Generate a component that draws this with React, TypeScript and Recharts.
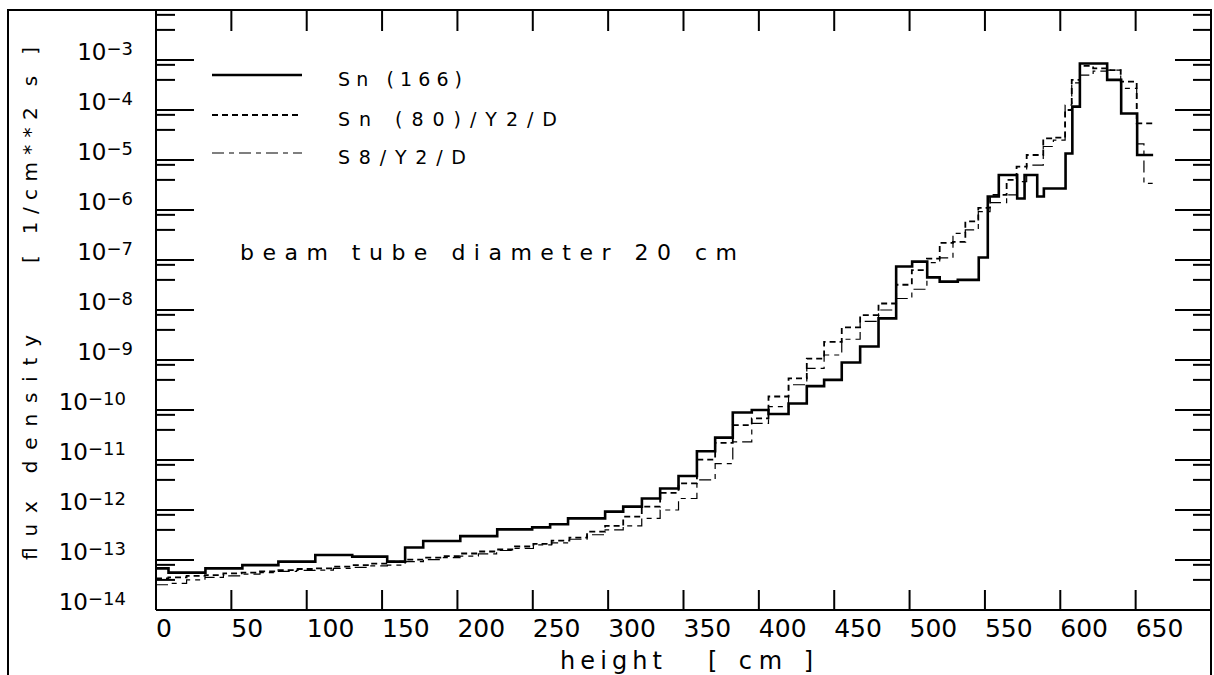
import { LineChart, Line, XAxis, YAxis } from "recharts";

const W = 1214;
const H = 675;
const LEFT = 156;
const RIGHT = 1211;
const TOP = 10;
const BOTTOM = 610;
const FONT = "'DejaVu Sans', sans-serif";

// height axis ticks [cm]
const heightTicks = [0, 50, 100, 150, 200, 250, 300, 350, 400, 450, 500, 550, 600, 650];
// flux axis: labelled decades and the two short ticks below each
const decadeTicks = [1e-14, 1e-13, 1e-12, 1e-11, 1e-10, 1e-9, 1e-8, 1e-7, 1e-6, 1e-5, 1e-4, 1e-3];
const minorTicks = [
  4e-14, 8e-14, 4e-13, 8e-13, 4e-12, 8e-12, 4e-11, 8e-11, 4e-10, 8e-10, 4e-9, 8e-9,
  4e-8, 8e-8, 4e-7, 8e-7, 4e-6, 8e-6, 4e-5, 8e-5, 4e-4, 8e-4, 4e-3, 8e-3,
];

// Sn (166): bin edges [cm] and flux per bin [1/cm**2 s]
const sn166Edges = [
  0, 8.3, 32.8, 57.3, 81.2, 105.7, 130.2, 153.4, 165.3, 177.3,
  201.9, 226.4, 249.6, 261.5, 273.4, 298, 310, 322.4, 334.5, 346.7,
  358.9, 371, 382.7, 395.3, 406.4, 419.7, 431.8, 443.3, 455, 467.2,
  479.4, 491.1, 501.7, 511.7, 520, 532, 545.9, 551.9, 559.2, 571.4,
  576.3, 584.7, 589.1, 603.5, 608, 613, 631.1, 640.4, 651, 661.6,
];
const sn166Flux = [
  6.8e-14, 5.6e-14, 6.8e-14, 7.9e-14, 9.3e-14, 1.26e-13, 1.17e-13, 9.3e-14, 1.78e-13, 2.4e-13,
  3.0e-13, 4.1e-13, 4.5e-13, 5.2e-13, 6.8e-13, 9.3e-13, 1.17e-12, 1.7e-12, 2.7e-12, 4.8e-12,
  1.5e-11, 2.8e-11, 8.9e-11, 1.0e-10, 8.3e-11, 1.35e-10, 3.0e-10, 4.0e-10, 8.9e-10, 1.86e-9,
  6.8e-9, 7.4e-8, 9.3e-8, 4.5e-8, 3.7e-8, 4.0e-8, 1.12e-7, 1.86e-6, 5.0e-6, 1.7e-6,
  5.0e-6, 1.86e-6, 2.7e-6, 1.35e-5, 1.17e-4, 8.5e-4, 4.0e-4, 8.5e-5, 1.26e-5,
];

// Sn (80)/Y2/D
const sn80Edges = [
  0, 8.2, 20.3, 32.5, 44.7, 56.8, 69, 81.2, 93.3, 105.5,
  117.7, 129.8, 142, 153.5, 165.3, 177.4, 189.6, 201.7, 213.9, 226,
  238.2, 250.4, 262.5, 274.3, 286, 298, 310, 322.3, 334.5, 346.7,
  358.9, 371, 382.7, 395.3, 406.4, 419.7, 431.8, 443.3, 455, 467.2,
  479.4, 491.1, 501.5, 511.5, 520, 528.8, 537, 545.6, 553.4, 564.4,
  571, 577.7, 588.7, 595.4, 603.2, 607.6, 613, 621.8, 630.8, 640.1,
  650.7, 661.3,
];
const sn80Flux = [
  4.3e-14, 4.5e-14, 4.8e-14, 5.0e-14, 5.4e-14, 5.6e-14, 5.9e-14, 6.3e-14, 6.6e-14, 6.8e-14,
  7.4e-14, 7.9e-14, 8.5e-14, 9.3e-14, 1.02e-13, 1.12e-13, 1.2e-13, 1.35e-13, 1.48e-13, 1.62e-13,
  1.86e-13, 2.1e-13, 2.45e-13, 2.8e-13, 3.7e-13, 4.8e-13, 7.4e-13, 1.17e-12, 2.2e-12, 3.4e-12,
  1.02e-11, 2.2e-11, 5.0e-11, 6.8e-11, 1.86e-10, 4.3e-10, 1.07e-9, 2.3e-9, 4.5e-9, 7.9e-9,
  1.35e-8, 3.2e-8, 6.3e-8, 1.07e-7, 2.2e-7, 2.3e-7, 5.9e-7, 1.1e-6, 2.0e-6, 4.0e-6,
  7.4e-6, 1.26e-5, 2.7e-5, 2.8e-5, 1.0e-4, 4.0e-4, 7.6e-4, 6.8e-4, 6.3e-4, 3.7e-4,
  5.4e-5,
];

// S8/Y2/D
const s8Edges = [
  0, 8.2, 20.3, 32.5, 44.7, 56.8, 69, 81.2, 93.3, 105.5,
  117.7, 129.8, 142, 153.5, 165.3, 177.4, 189.6, 201.7, 213.9, 226,
  238.2, 250.4, 262.5, 274.3, 286, 298, 310, 322.3, 334.5, 346.7,
  358.9, 371, 382.7, 395.3, 406.4, 419.7, 431.8, 443.3, 455, 467.2,
  479.4, 491.1, 501.5, 511.5, 520, 528.8, 537, 545.6, 553.4, 564.4,
  571, 577.7, 588.7, 595.4, 603.2, 607.6, 613, 621.8, 630.8, 640.1,
  650.7, 655.5, 661.3,
];
const s8Flux = [
  3.2e-14, 3.4e-14, 4.0e-14, 4.5e-14, 4.8e-14, 5.2e-14, 5.6e-14, 5.9e-14, 6.2e-14, 6.3e-14,
  6.8e-14, 7.1e-14, 7.6e-14, 7.9e-14, 9.3e-14, 1.02e-13, 1.12e-13, 1.2e-13, 1.32e-13, 1.55e-13,
  1.7e-13, 2.0e-13, 2.2e-13, 2.6e-13, 3.2e-13, 4.0e-13, 4.8e-13, 6.8e-13, 1.0e-12, 1.7e-12,
  4.0e-12, 8.5e-12, 2.3e-11, 5.4e-11, 1.17e-10, 3.2e-10, 6.8e-10, 1.26e-9, 2.6e-9, 5.9e-9,
  1.0e-8, 1.7e-8, 2.6e-8, 8.9e-8, 1.1e-7, 3.4e-7, 4.0e-7, 9.3e-7, 1.4e-6, 2.0e-6,
  3.7e-6, 7.9e-6, 1.86e-5, 2.5e-5, 1.26e-4, 3.5e-4, 5.0e-4, 6.0e-4, 6.3e-4, 2.7e-4,
  2.1e-5, 3.4e-6,
];

// one point per bin edge; the last edge repeats the last bin so stepAfter closes it
const steps = (edges: number[], flux: number[]) =>
  edges.map((x, i) => ({ x, y: flux[Math.min(i, flux.length - 1)] }));

const isDecade = (v: number) => {
  const l = Math.log10(v);
  return Math.abs(l - Math.round(l)) < 1e-6;
};

function BottomTick(props: any) {
  const { x, payload } = props;
  return (
    <g>
      {payload.value !== 0 && (
        <line x1={x} x2={x} y1={BOTTOM} y2={BOTTOM - 20} stroke="#000" strokeWidth={2} />
      )}
      <text x={x} y={637} fontSize={25} fontFamily={FONT} fill="#000">
        {payload.value}
      </text>
    </g>
  );
}

function TopTick(props: any) {
  const { x, payload } = props;
  if (payload.value === 0) return <g />;
  return <line x1={x} x2={x} y1={TOP} y2={TOP + 21} stroke="#000" strokeWidth={2} />;
}

function LeftTick(props: any) {
  const { y, payload } = props;
  const v = payload.value;
  const major = isDecade(v);
  const exp = Math.round(Math.log10(v));
  return (
    <g>
      <line x1={LEFT} x2={LEFT + (major ? 38 : 19)} y1={y} y2={y} stroke="#000" strokeWidth={2} />
      {major && (
        <text x={exp <= -10 ? 126 : 133} y={y} textAnchor="end" fontSize={23} fontFamily={FONT} fill="#000">
          10
          <tspan fontSize={18} dy={-5}>
            {"\u2212" + Math.abs(exp)}
          </tspan>
        </text>
      )}
    </g>
  );
}

function RightTick(props: any) {
  const { y, payload } = props;
  const major = isDecade(payload.value);
  return <line x1={RIGHT} x2={RIGHT - (major ? 36 : 18)} y1={y} y2={y} stroke="#000" strokeWidth={2} />;
}

const axisLine = { stroke: "#000", strokeWidth: 2 };

export default function App() {
  const legend = [
    { label: "Sn (166)", y: 75, dash: undefined, w: 2.6, len: 124 },
    { label: "Sn (80)/Y2/D", y: 115, dash: "6 4", w: 1.8, len: 219 },
    { label: "S8/Y2/D", y: 153, dash: "12 5 5 5", w: 1.2, len: 128 },
  ];
  return (
    <div style={{ position: "absolute", left: 0, top: 0, width: W, height: H, background: "#fff" }}>
      <LineChart
        width={W}
        height={H}
        margin={{ top: TOP - 1, right: W - RIGHT - 1, bottom: H - BOTTOM - 1, left: LEFT - 1 }}
      >
        <XAxis
          xAxisId="b"
          type="number"
          dataKey="x"
          domain={[0, 700]}
          ticks={heightTicks}
          interval={0}
          height={1}
          tickLine={false}
          axisLine={axisLine}
          tick={BottomTick}
          allowDataOverflow
        />
        <XAxis
          xAxisId="t"
          orientation="top"
          type="number"
          dataKey="x"
          domain={[0, 700]}
          ticks={heightTicks}
          interval={0}
          height={1}
          tickLine={false}
          axisLine={axisLine}
          tick={TopTick}
          allowDataOverflow
        />
        <YAxis
          yAxisId="l"
          type="number"
          scale="log"
          domain={[1e-14, 1e-2]}
          ticks={[...decadeTicks, ...minorTicks]}
          interval={0}
          width={1}
          tickLine={false}
          axisLine={axisLine}
          tick={LeftTick}
          allowDataOverflow
        />
        <YAxis
          yAxisId="r"
          orientation="right"
          type="number"
          scale="log"
          domain={[1e-14, 1e-2]}
          ticks={[...decadeTicks, ...minorTicks]}
          interval={0}
          width={1}
          tickLine={false}
          axisLine={axisLine}
          tick={RightTick}
          allowDataOverflow
        />
        <Line
          xAxisId="b"
          yAxisId="l"
          data={steps(s8Edges, s8Flux)}
          dataKey="y"
          type="stepAfter"
          stroke="#000"
          strokeWidth={1.2}
          strokeDasharray="12 5 5 5"
          dot={false}
          isAnimationActive={false}
        />
        <Line
          xAxisId="b"
          yAxisId="l"
          data={steps(sn80Edges, sn80Flux)}
          dataKey="y"
          type="stepAfter"
          stroke="#000"
          strokeWidth={1.8}
          strokeDasharray="6 4"
          dot={false}
          isAnimationActive={false}
        />
        <Line
          xAxisId="b"
          yAxisId="l"
          data={steps(sn166Edges, sn166Flux)}
          dataKey="y"
          type="stepAfter"
          stroke="#000"
          strokeWidth={2.6}
          dot={false}
          isAnimationActive={false}
        />
        <Line
          xAxisId="t"
          yAxisId="r"
          data={steps(sn166Edges, sn166Flux)}
          dataKey="y"
          type="stepAfter"
          stroke="none"
          strokeWidth={0}
          dot={false}
          legendType="none"
          isAnimationActive={false}
        />
      </LineChart>
      <svg
        width={W}
        height={H}
        style={{ position: "absolute", left: 0, top: 0, pointerEvents: "none" }}
      >
        <path d={`M8 ${H + 2} V${TOP} H${RIGHT} V${H + 2}`} fill="none" stroke="#000" strokeWidth={2} />
        {legend.map((l) => (
          <g key={l.label}>
            <line x1={212} x2={302} y1={l.y} y2={l.y} stroke="#000" strokeWidth={l.w} strokeDasharray={l.dash} />
            <text x={338} y={l.y + 11} fontSize={19} fontFamily={FONT} fill="#000" textLength={l.len}>
              {l.label}
            </text>
          </g>
        ))}
        <text x={240} y={260} fontSize={22} fontFamily={FONT} fill="#000" textLength={497}>
          beam tube diameter 20 cm
        </text>
        <text x={560} y={669} fontSize={24} fontFamily={FONT} fill="#000" textLength={102}>
          height
        </text>
        <text x={708} y={669} fontSize={24} fontFamily={FONT} fill="#000" textLength={105}>
          [ cm ]
        </text>
        <text transform="translate(37 560) rotate(-90)" fontSize={20} fontFamily={FONT} fill="#000" textLength={225}>
          flux density
        </text>
        <text transform="translate(37 263) rotate(-90)" fontSize={20} fontFamily={FONT} fill="#000" textLength={216}>
          [ 1/cm**2 s ]
        </text>
      </svg>
    </div>
  );
}
